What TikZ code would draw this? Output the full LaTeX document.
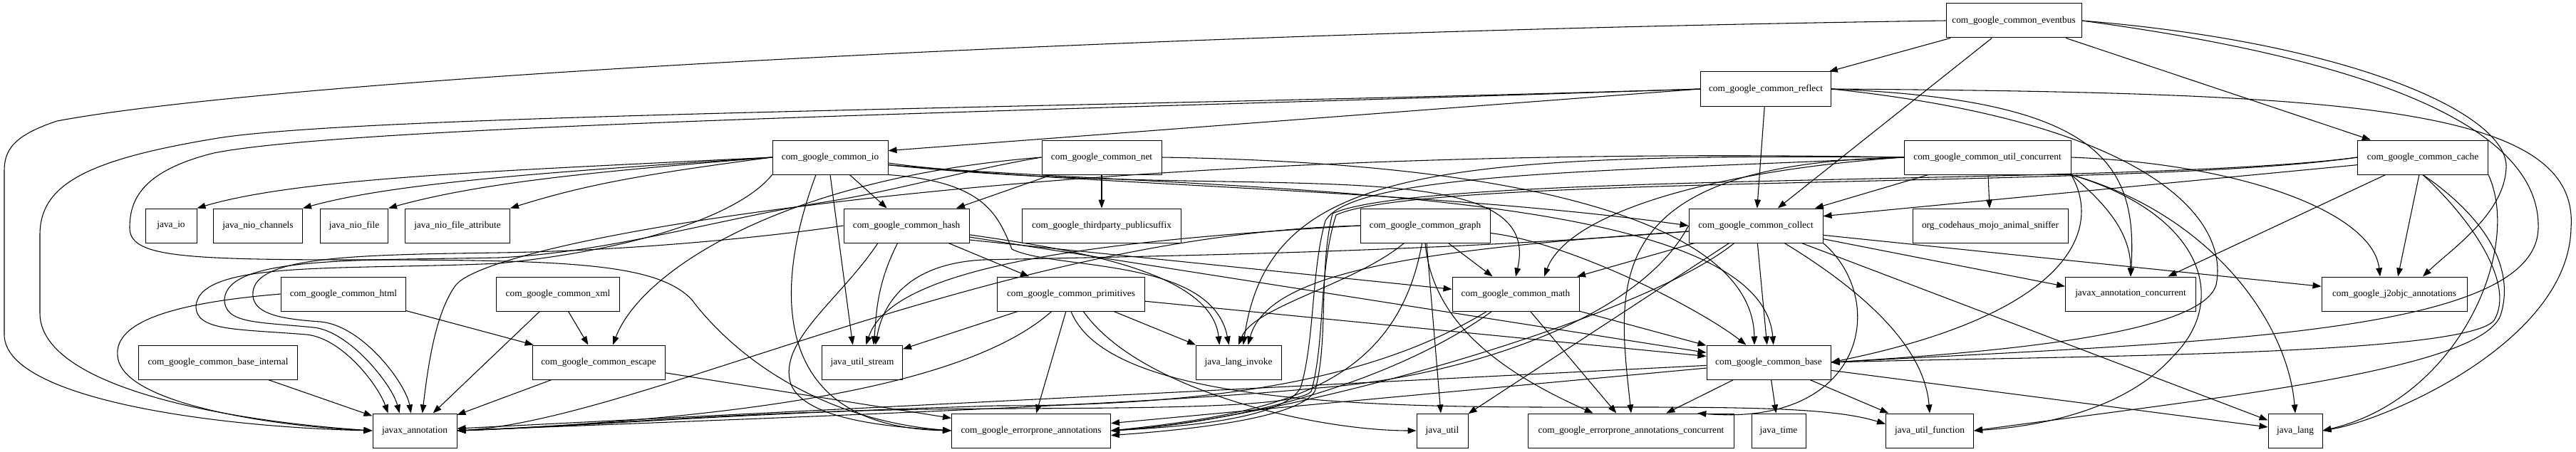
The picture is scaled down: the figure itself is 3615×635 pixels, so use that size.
\documentclass[tikz,border=0pt]{standalone}
\usepackage{fontspec}
\setmainfont{Liberation Serif}
\usetikzlibrary{arrows.meta}
\begin{document}
\begin{tikzpicture}[x=0.75pt,y=-0.75pt,
  box/.style={draw, line width=0.75pt, minimum height=36pt, inner sep=1pt, font=\fontsize{10}{12}\selectfont, minimum width=#1*0.75pt},
  e/.style={-{Triangle[length=9pt,width=6.5pt]}, line width=0.8pt}]
\useasboundingbox (0,0) rectangle (3615,635);
% nodes
\node[box=190] (eventbus) at (2826,29) {com\_google\_common\_eventbus};
\node[box=183] (reflect) at (2478,125) {com\_google\_common\_reflect};
\node[box=162] (io) at (1165,221) {com\_google\_common\_io};
\node[box=168] (net) at (1546,221) {com\_google\_common\_net};
\node[box=234] (uconc) at (2789,221) {com\_google\_common\_util\_concurrent};
\node[box=183] (cache) at (3400,221) {com\_google\_common\_cache};
\node[box=72] (jio) at (240,317) {java\_io};
\node[box=125] (nioch) at (362,317) {java\_nio\_channels};
\node[box=95] (niof) at (497,317) {java\_nio\_file};
\node[box=147] (niofa) at (642,317) {java\_nio\_file\_attribute};
\node[box=176] (hash) at (1272,317) {com\_google\_common\_hash};
\node[box=223] (psuf) at (1546,317) {com\_google\_thirdparty\_publicsuffix};
\node[box=182] (graph) at (2000,317) {com\_google\_common\_graph};
\node[box=188] (collect) at (2464,317) {com\_google\_common\_collect};
\node[box=218] (sniffer) at (2793,317) {org\_codehaus\_mojo\_animal\_sniffer};
\node[box=175] (html) at (482,413) {com\_google\_common\_html};
\node[box=173] (xml) at (783,413) {com\_google\_common\_xml};
\node[box=207] (prim) at (1503,413) {com\_google\_common\_primitives};
\node[box=178] (math) at (2127,413) {com\_google\_common\_math};
\node[box=183] (jac) at (2990,413) {javax\_annotation\_concurrent};
\node[box=204] (j2objc) at (3360,413) {com\_google\_j2objc\_annotations};
\node[box=223] (bint) at (306,509) {com\_google\_common\_base\_internal};
\node[box=186] (escape) at (840,509) {com\_google\_common\_escape};
\node[box=113] (stream) at (1210,509) {java\_util\_stream};
\node[box=120] (invoke) at (1738,509) {java\_lang\_invoke};
\node[box=174] (base) at (2482,509) {com\_google\_common\_base};
\node[box=118] (jaxa) at (582,605) {javax\_annotation};
\node[box=223] (ep) at (1447,605) {com\_google\_errorprone\_annotations};
\node[box=72] (jutil) at (2024,605) {java\_util};
\node[box=289] (epc) at (2289,605) {com\_google\_errorprone\_annotations\_concurrent};
\node[box=76] (jtime) at (2496,605) {java\_time};
\node[box=123] (func) at (2708,605) {java\_util\_function};
\node[box=76] (jlang) at (3221,605) {java\_lang};
% eventbus
\draw[e] (eventbus) -- (reflect);
\draw[e] (eventbus) -- (collect);
\draw[e] (eventbus) -- (cache);
\draw[e] (eventbus.east) .. controls (3300,60) and (3520,160) .. (3517,235) .. controls (3515,300) and (3440,350) .. ([xshift=30pt]j2objc.north);
\draw[e] (eventbus.east) .. controls (3300,80) and (3565,170) .. (3562,320) .. controls (3560,470) and (3100,480) .. (base.east);
\draw[e] (eventbus.west) .. controls (1600,45) and (400,110) .. (80,170) .. controls (20,190) and (6,210) .. (6,240) -- (6,470) .. controls (6,560) and (300,600) .. (jaxa.west);
% reflect
\draw[e] (reflect.west) -- ([yshift=7pt]io.east);
\draw[e] (reflect) -- (collect);
\draw[e] (reflect.west) .. controls (1600,150) and (500,160) .. (300,195) .. controls (120,225) and (56,260) .. (56,330) -- (56,440) .. controls (56,540) and (300,590) .. (jaxa.west);
\draw[e] (reflect.west) .. controls (1500,155) and (500,175) .. (300,215) .. controls (200,240) and (182,280) .. (182,320) .. controls (182,360) and (250,365) .. (500,365) .. controls (800,365) and (920,370) .. (970,420) .. controls (1030,500) and (1150,590) .. (ep.west);
\draw[e] (reflect.east) .. controls (3000,170) and (3130,300) .. (3110,400) .. controls (3090,470) and (2800,495) .. (base.east);
\draw[e] (reflect.east) .. controls (2950,140) and (3000,230) .. (jac.north);
\draw[e] (reflect.east) .. controls (3300,130) and (3620,150) .. (3608,320) .. controls (3605,480) and (3350,590) .. (jlang.east);
% io
\draw[e] (io.west) .. controls (700,240) and (420,250) .. (jio.north east);
\draw[e] (io.west) .. controls (800,240) and (560,255) .. (nioch.north east);
\draw[e] (io.west) .. controls (850,240) and (680,255) .. (niof.north east);
\draw[e] (io.west) .. controls (900,245) and (820,260) .. (niofa.north east);
\draw[e] (io) -- (hash);
\draw[e] (io.south) -- ([xshift=-10pt]stream.north);
\draw[e] ([xshift=-15pt]io.south) .. controls (1080,420) and (1090,600) .. (ep.west);
\draw[e] (io.south west) .. controls (1040,300) and (900,350) .. (700,370) .. controls (480,380) and (280,365) .. (275,430) .. controls (275,465) and (330,462) .. (430,470) .. controls (480,475) and (530,540) .. ([xshift=-28pt]jaxa.north);
\draw[e] ([yshift=-6pt]io.east) .. controls (1450,258) and (2000,265) .. (collect.west);
\draw[e] ([yshift=-8pt]io.east) .. controls (1700,270) and (2470,255) .. ([xshift=5pt]base.north);
\draw[e] ([yshift=-8pt]io.east) .. controls (1750,285) and (2170,205) .. (math.north);
\draw[e] (io.south east) .. controls (1380,255) and (1400,300) .. (1420,350) .. controls (1480,380) and (1700,360) .. ([xshift=-10pt]invoke.north);
% net
\draw[e] (net) -- (hash);
\draw[e] (net) -- (psuf);
\draw[e] (net.west) .. controls (1100,250) and (900,380) .. ([xshift=15pt]escape.north);
\draw[e] (net.west) .. controls (1350,240) and (1250,270) .. (1150,285) .. controls (1000,310) and (850,355) .. (700,362) .. controls (500,366) and (320,360) .. (315,420) .. controls (315,455) and (360,452) .. (440,460) .. controls (490,465) and (550,540) .. ([xshift=-16pt]jaxa.north);
\draw[e] (net.east) .. controls (2200,230) and (2460,330) .. ([xshift=-15pt]base.north);
% hash
\draw[e] (hash) -- (prim);
\draw[e] ([yshift=-15pt]hash.east) -- ([yshift=5pt]math.west);
\draw[e] (hash) .. controls (1230,400) and (1230,440) .. ([xshift=12pt]stream.north);
\draw[e] (hash) .. controls (1500,350) and (1700,380) .. ([xshift=-20pt]invoke.north);
\draw[e] (hash.west) .. controls (1100,330) and (900,352) .. (700,355) .. controls (500,358) and (360,360) .. (355,410) .. controls (352,440) and (390,448) .. (450,452) .. controls (510,458) and (570,540) .. ([xshift=-4pt]jaxa.north);
\draw[e] ([xshift=-30pt]hash.south) .. controls (1180,420) and (1090,480) .. (1110,540) .. controls (1130,590) and (1250,600) .. (ep.west);
\draw[e] ([yshift=-12pt]hash.east) -- (base);
% graph
\draw[e] (graph) -- (math);
\draw[e] (graph) .. controls (2200,340) and (2380,430) .. (base);
\draw[e] (graph) -- (jutil);
\draw[e] (graph.south) .. controls (2010,450) and (2100,520) .. ([xshift=-40pt]epc.north);
\draw[e] (graph.west) .. controls (1500,340) and (1250,380) .. ([xshift=4pt]stream.north);
\draw[e] (graph) .. controls (1900,400) and (1760,430) .. (invoke.north);
\draw[e] (graph.west) .. controls (1400,330) and (900,590) .. (jaxa.east);
\draw[e] (graph) .. controls (1960,540) and (1800,580) .. (ep.east);
% primitives
\draw[e] (prim) -- (stream);
\draw[e] (prim) -- (invoke);
\draw[e] (prim) -- (ep);
\draw[e] (prim) -- (base);
\draw[e] (prim) .. controls (1600,550) and (1850,605) .. (jutil.west);
\draw[e] (prim.south) .. controls (1560,580) and (2000,572) .. (2300,572) .. controls (2480,572) and (2580,575) .. ([yshift=7pt]func.west);
\draw[e] (prim) .. controls (1350,550) and (1000,590) .. (jaxa.east);
% math
\draw[e] (math) -- (base);
\draw[e] (math) -- (epc);
\draw[e] (math) .. controls (1980,520) and (1780,590) .. (ep.east);
\draw[e] (math) .. controls (1950,520) and (1750,570) .. (1400,570) .. controls (1000,582) and (800,600) .. (jaxa.east);
% collect
\draw[e] (collect) -- (base);
\draw[e] (collect) -- (math);
\draw[e] ([yshift=-6pt]collect.west) .. controls (2000,355) and (1600,360) .. (1380,365) .. controls (1280,370) and (1240,420) .. ([xshift=14pt]stream.north);
\draw[e] ([yshift=-6pt]collect.west) .. controls (2000,350) and (1780,380) .. ([xshift=10pt]invoke.north);
\draw[e] ([yshift=-14pt]collect.east) -- ([yshift=8pt]jac.west);
\draw[e] ([yshift=-10pt]collect.east) -- ([yshift=8pt]j2objc.west);
\draw[e] (collect.west) .. controls (2300,450) and (2050,530) .. (1850,545) .. controls (1600,570) and (1000,590) .. (jaxa.east);
\draw[e] (collect) .. controls (2300,450) and (1800,590) .. (ep.east);
\draw[e] (collect.south east) .. controls (2650,420) and (2620,600) .. ([xshift=70pt]epc.north);
\draw[e] (collect) -- (jutil);
\draw[e] (collect) .. controls (2600,400) and (2700,480) .. (func.north);
\draw[e] (collect) -- (jlang);
% base
\draw[e] (base) -- (jaxa);
\draw[e] (base) -- (ep);
\draw[e] (base) -- (epc);
\draw[e] (base) -- (jtime);
\draw[e] (base) -- (func);
\draw[e] (base) -- (jlang);
% util_concurrent
\draw[e] (uconc) -- (collect);
\draw[e] (uconc) -- (sniffer);
\draw[e] (uconc.south east) .. controls (2960,290) and (2990,330) .. (jac.north);
\draw[e] (uconc.east) .. controls (3150,230) and (3330,300) .. ([xshift=-15pt]j2objc.north);
\draw[e] (uconc.south east) .. controls (3100,300) and (3210,450) .. (jlang.north);
\draw[e] (uconc.south east) .. controls (2950,320) and (2910,440) .. (base.east);
\draw[e] (uconc.west) .. controls (2400,240) and (2200,300) .. ([xshift=30pt]math.north);
\draw[e] (uconc.south east) .. controls (3090,300) and (3130,420) .. (3050,500) .. controls (2980,580) and (2850,600) .. (func.east);
\draw[e] (uconc.west) .. controls (2300,240) and (1900,240) .. (1860,310) .. controls (1840,380) and (1845,480) .. (1825,545) .. controls (1800,590) and (1650,600) .. (ep.east);
\draw[e] (uconc.west) .. controls (2240,230) and (2270,400) .. (epc.north);
\draw[e] (uconc.west) .. controls (1500,200) and (700,330) .. (640,400) .. controls (610,440) and (600,520) .. ([xshift=8pt]jaxa.north);
\draw[e] (uconc.west) .. controls (2000,215) and (1780,240) .. ([xshift=5pt]invoke.north);
% cache
\draw[e] ([yshift=-8pt]cache.west) -- ([yshift=10pt]collect.east);
\draw[e] (cache) -- (jac);
\draw[e] (cache) -- (j2objc);
\draw[e] (cache.south east) .. controls (3540,350) and (3450,560) .. (jlang.east);
\draw[e] (cache.south) .. controls (3470,310) and (3530,400) .. (3500,450) .. controls (3460,500) and (2900,500) .. (base.east);
\draw[e] (cache.south) .. controls (3480,300) and (3530,370) .. (3510,440) .. controls (3490,520) and (3100,560) .. (func.east);
\draw[e] (cache.west) .. controls (3000,262) and (2000,240) .. (1870,300) .. controls (1850,380) and (1865,480) .. (1845,550) .. controls (1820,590) and (1650,605) .. ([yshift=-5pt]ep.east);
\draw[e] (cache.west) .. controls (3000,266) and (2000,244) .. (1875,302) .. controls (1850,380) and (1860,480) .. (1840,550) .. controls (1815,578) and (1500,572) .. (1300,575) .. controls (1000,580) and (800,600) .. (jaxa.east);
% html, xml, escape, base_internal
\draw[e] (html) -- (escape);
\draw[e] (html.west) .. controls (250,425) and (160,450) .. (165,500) .. controls (170,570) and (400,600) .. (jaxa.west);
\draw[e] (xml) -- (escape);
\draw[e] (xml) -- (jaxa);
\draw[e] (escape) -- (jaxa);
\draw[e] (escape) -- (ep);
\draw[e] (bint) -- (jaxa);
\end{tikzpicture}
\end{document}
